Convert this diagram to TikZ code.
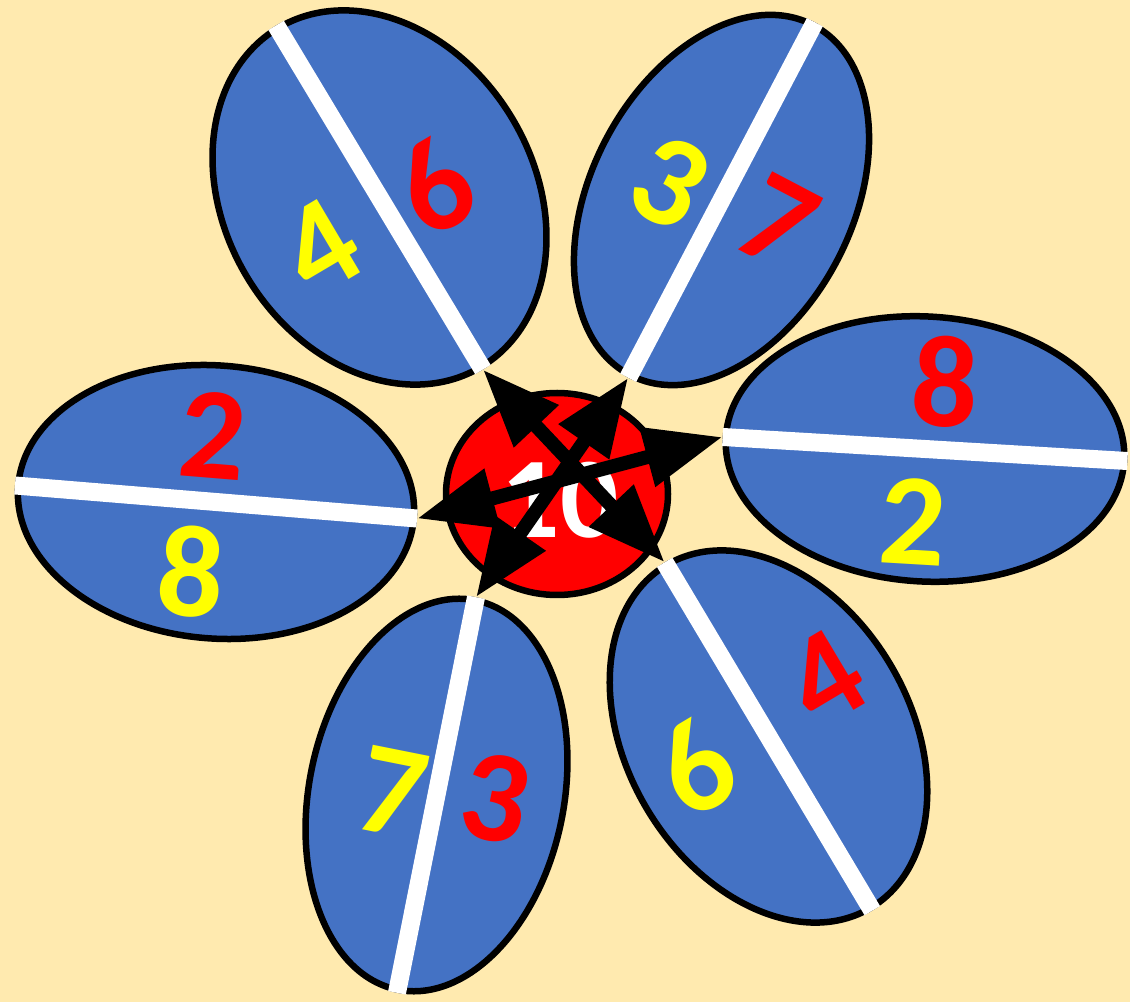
\documentclass[tikz,border=0pt]{standalone}
\usepackage{fontspec}
\setmainfont{Carlito}
\usetikzlibrary{shapes.geometric,arrows.meta}
\definecolor{bg}{HTML}{FFEAAF}
\definecolor{petalblue}{HTML}{4472C4}
\definecolor{numred}{HTML}{FF0000}
\definecolor{numyellow}{HTML}{FFFF00}
\begin{document}
\begin{tikzpicture}[x=1pt,y=1pt,
 petal/.style={ellipse, draw=black, line width=6.5pt, fill=petalblue, inner sep=0pt},
 vein/.style={draw=white, line width=18pt},
 num/.style={font=\fontsize{131}{131}\selectfont\bfseries, inner sep=0pt},
 rednum/.style={num, text=numred},
 yelnum/.style={num, text=numyellow},
 link/.style={line width=14pt, {Triangle[length=78pt,width=58pt]}-{Triangle[length=78pt,width=58pt]}},
]
\fill[bg] (0,0) rectangle (1130,1002);
\useasboundingbox (0,0) rectangle (1130,1002);

% petals
\node[petal, minimum width=395, minimum height=309, rotate=121] (p1) at (379.5,804.5) {};
\node[petal, minimum width=395, minimum height=261, rotate=62.3] (p2) at (721.5,802) {};
\node[petal, minimum width=399, minimum height=265, rotate=-3.4] (p3) at (925,553) {};
\node[petal, minimum width=397, minimum height=273, rotate=-4.7] (p4) at (216,500) {};
\node[petal, minimum width=397, minimum height=255, rotate=78.7] (p5) at (436.5,207) {};
\node[petal, minimum width=399, minimum height=283, rotate=120.8] (p6) at (768.5,265.5) {};

% white veins
\draw[vein] (p1.west) -- (p1.east);
\draw[vein] (p2.west) -- (p2.east);
\draw[vein] (p3.west) -- (p3.east);
\draw[vein] (p4.west) -- (p4.east);
\draw[vein] (p5.west) -- (p5.east);
\draw[vein] (p6.west) -- (p6.east);

% hub
\node[ellipse, draw=black, line width=6.5pt, fill=numred, minimum width=222, minimum height=202, inner sep=0pt] (hub) at (557,508) {};
\node[font=\fontsize{115}{115}\selectfont\bfseries, text=white, inner sep=0pt] (ten) at (560,502) {10};

% numbers
\node[rednum, rotate=30.6] (n1a) at (435,815) {6};
\node[yelnum, rotate=30.6] (n1b) at (320,755) {4};
\node[yelnum, rotate=-27.7] (n2a) at (670,820) {3};
\node[rednum, rotate=-27.7] (n2b) at (778,780) {7};
\node[rednum, rotate=-3.4] (n3a) at (945,620) {8};
\node[yelnum, rotate=-3.4] (n3b) at (913,480) {2};
\node[rednum, rotate=-4.7] (n4a) at (213,567) {2};
\node[yelnum, rotate=-4.7] (n4b) at (191,430) {8};
\node[yelnum, rotate=-11.3] (n5a) at (392,210) {7};
\node[rednum, rotate=-11.3] (n5b) at (495,204) {3};
\node[rednum, rotate=30.8] (n6a) at (825,324) {4};
\node[yelnum, rotate=30.8] (n6b) at (695,234) {6};

% arrows
\draw[link] (p1.west) -- (p6.east);
\draw[link] (p2.west) -- (p5.east);
\draw[link] (p3.west) -- (p4.east);
\end{tikzpicture}
\end{document}
